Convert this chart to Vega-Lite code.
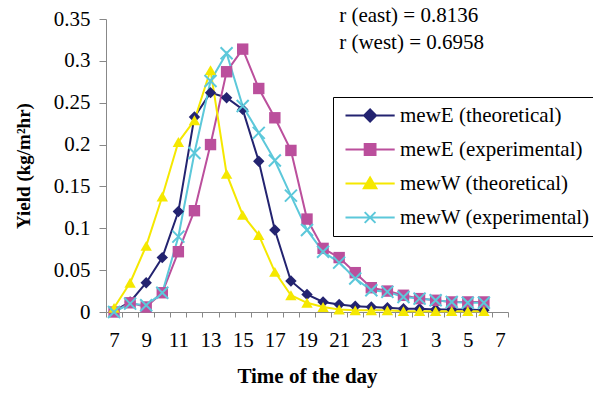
{
  "$schema": "https://vega.github.io/schema/vega-lite/v6.json",
  "width": 402,
  "height": 293,
  "autosize": {"type": "none"},
  "padding": {"left": 106, "top": 19, "right": 85, "bottom": 82},
  "config": {
    "view": {"stroke": null},
    "axis": {"grid": false, "labelFont": "Liberation Serif", "titleFont": "Liberation Serif", "labelFontSize": 21}
  },
  "datasets": {
    "yields": [
      {"time": "7", "series": "mewE (theoretical)", "yield": 0.001},
      {"time": "8", "series": "mewE (theoretical)", "yield": 0.012},
      {"time": "9", "series": "mewE (theoretical)", "yield": 0.035},
      {"time": "10", "series": "mewE (theoretical)", "yield": 0.065},
      {"time": "11", "series": "mewE (theoretical)", "yield": 0.12},
      {"time": "12", "series": "mewE (theoretical)", "yield": 0.233},
      {"time": "13", "series": "mewE (theoretical)", "yield": 0.262},
      {"time": "14", "series": "mewE (theoretical)", "yield": 0.256},
      {"time": "15", "series": "mewE (theoretical)", "yield": 0.242},
      {"time": "16", "series": "mewE (theoretical)", "yield": 0.18},
      {"time": "17", "series": "mewE (theoretical)", "yield": 0.098},
      {"time": "18", "series": "mewE (theoretical)", "yield": 0.037},
      {"time": "19", "series": "mewE (theoretical)", "yield": 0.021},
      {"time": "20", "series": "mewE (theoretical)", "yield": 0.012},
      {"time": "21", "series": "mewE (theoretical)", "yield": 0.009},
      {"time": "22", "series": "mewE (theoretical)", "yield": 0.007},
      {"time": "23", "series": "mewE (theoretical)", "yield": 0.006},
      {"time": "0", "series": "mewE (theoretical)", "yield": 0.005},
      {"time": "1", "series": "mewE (theoretical)", "yield": 0.004},
      {"time": "2", "series": "mewE (theoretical)", "yield": 0.004},
      {"time": "3", "series": "mewE (theoretical)", "yield": 0.003},
      {"time": "4", "series": "mewE (theoretical)", "yield": 0.003},
      {"time": "5", "series": "mewE (theoretical)", "yield": 0.003},
      {"time": "6", "series": "mewE (theoretical)", "yield": 0.002},

      {"time": "7", "series": "mewE (experimental)", "yield": 0.0},
      {"time": "8", "series": "mewE (experimental)", "yield": 0.011},
      {"time": "9", "series": "mewE (experimental)", "yield": 0.006},
      {"time": "10", "series": "mewE (experimental)", "yield": 0.023},
      {"time": "11", "series": "mewE (experimental)", "yield": 0.072},
      {"time": "12", "series": "mewE (experimental)", "yield": 0.121},
      {"time": "13", "series": "mewE (experimental)", "yield": 0.2},
      {"time": "14", "series": "mewE (experimental)", "yield": 0.287},
      {"time": "15", "series": "mewE (experimental)", "yield": 0.314},
      {"time": "16", "series": "mewE (experimental)", "yield": 0.267},
      {"time": "17", "series": "mewE (experimental)", "yield": 0.232},
      {"time": "18", "series": "mewE (experimental)", "yield": 0.193},
      {"time": "19", "series": "mewE (experimental)", "yield": 0.111},
      {"time": "20", "series": "mewE (experimental)", "yield": 0.076},
      {"time": "21", "series": "mewE (experimental)", "yield": 0.065},
      {"time": "22", "series": "mewE (experimental)", "yield": 0.047},
      {"time": "23", "series": "mewE (experimental)", "yield": 0.029},
      {"time": "0", "series": "mewE (experimental)", "yield": 0.025},
      {"time": "1", "series": "mewE (experimental)", "yield": 0.02},
      {"time": "2", "series": "mewE (experimental)", "yield": 0.016},
      {"time": "3", "series": "mewE (experimental)", "yield": 0.014},
      {"time": "4", "series": "mewE (experimental)", "yield": 0.012},
      {"time": "5", "series": "mewE (experimental)", "yield": 0.012},
      {"time": "6", "series": "mewE (experimental)", "yield": 0.012},

      {"time": "7", "series": "mewW (theoretical)", "yield": 0.005},
      {"time": "8", "series": "mewW (theoretical)", "yield": 0.035},
      {"time": "9", "series": "mewW (theoretical)", "yield": 0.079},
      {"time": "10", "series": "mewW (theoretical)", "yield": 0.138},
      {"time": "11", "series": "mewW (theoretical)", "yield": 0.203},
      {"time": "12", "series": "mewW (theoretical)", "yield": 0.229},
      {"time": "13", "series": "mewW (theoretical)", "yield": 0.289},
      {"time": "14", "series": "mewW (theoretical)", "yield": 0.165},
      {"time": "15", "series": "mewW (theoretical)", "yield": 0.116},
      {"time": "16", "series": "mewW (theoretical)", "yield": 0.092},
      {"time": "17", "series": "mewW (theoretical)", "yield": 0.048},
      {"time": "18", "series": "mewW (theoretical)", "yield": 0.02},
      {"time": "19", "series": "mewW (theoretical)", "yield": 0.011},
      {"time": "20", "series": "mewW (theoretical)", "yield": 0.006},
      {"time": "21", "series": "mewW (theoretical)", "yield": 0.003},
      {"time": "22", "series": "mewW (theoretical)", "yield": 0.002},
      {"time": "23", "series": "mewW (theoretical)", "yield": 0.002},
      {"time": "0", "series": "mewW (theoretical)", "yield": 0.002},
      {"time": "1", "series": "mewW (theoretical)", "yield": 0.001},
      {"time": "2", "series": "mewW (theoretical)", "yield": 0.001},
      {"time": "3", "series": "mewW (theoretical)", "yield": 0.001},
      {"time": "4", "series": "mewW (theoretical)", "yield": 0.001},
      {"time": "5", "series": "mewW (theoretical)", "yield": 0.001},
      {"time": "6", "series": "mewW (theoretical)", "yield": 0.001},

      {"time": "7", "series": "mewW (experimental)", "yield": 0.0},
      {"time": "8", "series": "mewW (experimental)", "yield": 0.01},
      {"time": "9", "series": "mewW (experimental)", "yield": 0.008},
      {"time": "10", "series": "mewW (experimental)", "yield": 0.023},
      {"time": "11", "series": "mewW (experimental)", "yield": 0.09},
      {"time": "12", "series": "mewW (experimental)", "yield": 0.19},
      {"time": "13", "series": "mewW (experimental)", "yield": 0.276},
      {"time": "14", "series": "mewW (experimental)", "yield": 0.309},
      {"time": "15", "series": "mewW (experimental)", "yield": 0.246},
      {"time": "16", "series": "mewW (experimental)", "yield": 0.214},
      {"time": "17", "series": "mewW (experimental)", "yield": 0.181},
      {"time": "18", "series": "mewW (experimental)", "yield": 0.139},
      {"time": "19", "series": "mewW (experimental)", "yield": 0.098},
      {"time": "20", "series": "mewW (experimental)", "yield": 0.072},
      {"time": "21", "series": "mewW (experimental)", "yield": 0.059},
      {"time": "22", "series": "mewW (experimental)", "yield": 0.04},
      {"time": "23", "series": "mewW (experimental)", "yield": 0.026},
      {"time": "0", "series": "mewW (experimental)", "yield": 0.024},
      {"time": "1", "series": "mewW (experimental)", "yield": 0.018},
      {"time": "2", "series": "mewW (experimental)", "yield": 0.016},
      {"time": "3", "series": "mewW (experimental)", "yield": 0.014},
      {"time": "4", "series": "mewW (experimental)", "yield": 0.012},
      {"time": "5", "series": "mewW (experimental)", "yield": 0.011},
      {"time": "6", "series": "mewW (experimental)", "yield": 0.011}
    ],
    "notes": [
      {"time": "21", "yield": 0.3462, "note": "r (east) = 0.8136"},
      {"time": "21", "yield": 0.3142, "note": "r (west) = 0.6958"}
    ]
  },
  "layer": [
    {
      "data": {"name": "yields"},
      "encoding": {
        "x": {
          "field": "time",
          "type": "ordinal",
          "sort": null,
          "scale": {
            "domain": ["7","8","9","10","11","12","13","14","15","16","17","18","19","20","21","22","23","0","1","2","3","4","5","6","7b"],
            "paddingInner": 0,
            "paddingOuter": 0
          },
          "axis": {
            "title": "Time of the day",
            "titleFontSize": 21,
            "titleFontWeight": "bold",
            "titlePadding": 15,
            "tickBand": "extent",
            "tickSize": 5,
            "labelAngle": 0,
            "labelPadding": 12,
            "labelOverlap": false,
            "labelExpr": "datum.value == '7b' ? '7' : (toNumber(datum.value) % 2 == 1 ? datum.value : '')"
          }
        },
        "y": {
          "field": "yield",
          "type": "quantitative",
          "scale": {"domain": [0, 0.35], "nice": false, "zero": true},
          "axis": {
            "title": "Yield (kg/m²hr)",
            "titleFontSize": 19,
            "titleFontWeight": "bold",
            "titlePadding": 20,
            "values": [0, 0.05, 0.1, 0.15, 0.2, 0.25, 0.3, 0.35],
            "format": ".2~f",
            "tickSize": 7,
            "labelPadding": 9
          }
        },
        "color": {
          "field": "series",
          "type": "nominal",
          "scale": {
            "domain": ["mewE (theoretical)", "mewE (experimental)", "mewW (theoretical)", "mewW (experimental)"],
            "range": ["#232370", "#BB4F9C", "#F5E800", "#5CC8DA"]
          },
          "legend": {
            "title": null,
            "orient": "none",
            "legendX": 227,
            "legendY": 78,
            "padding": 8,
            "strokeColor": "black",
            "fillColor": "white",
            "labelFont": "Liberation Serif",
            "labelFontSize": 21,
            "labelLimit": 400,
            "rowPadding": 12,
            "symbolSize": 144,
            "symbolStrokeWidth": 2,
            "labelOffset": 38,
            "encode": {
              "symbols": {
                "update": {
                  "shape": {"signal": "datum.value == 'mewE (theoretical)' ? 'M-1,0H7.2M2.1,0L3.1,-1L4.1,0L3.1,1Z' : datum.value == 'mewE (experimental)' ? 'M-1,0H7.2M2.2,-0.9H4V0.9H2.2Z' : datum.value == 'mewW (theoretical)' ? 'M-1,0H7.2M3.1,-1L4.15,0.8H2.05Z' : 'M-1,0H7.2M2.2,-0.9L4,0.9M2.2,0.9L4,-0.9'"},
                  "fill": {"scale": "color", "field": "value"},
                  "stroke": {"scale": "color", "field": "value"},
                  "strokeWidth": {"value": 2},
                  "opacity": {"value": 1}
                }
              }
            }
          }
        }
      },
      "layer": [
        {"mark": {"type": "line", "strokeWidth": 2}},
        {
          "transform": [{"filter": "datum.series != 'mewW (experimental)'"}],
          "mark": {"type": "point", "filled": true, "opacity": 1, "size": 130},
          "encoding": {
            "shape": {
              "field": "series",
              "type": "nominal",
              "scale": {
                "domain": ["mewE (theoretical)", "mewE (experimental)", "mewW (theoretical)"],
                "range": ["diamond", "square", "triangle-up"]
              },
              "legend": null
            }
          }
        },
        {
          "transform": [{"filter": "datum.series == 'mewW (experimental)'"}],
          "mark": {"type": "point", "filled": false, "opacity": 1, "size": 144, "strokeWidth": 2, "shape": "M-1,-1L1,1M-1,1L1,-1"}
        }
      ]
    },
    {
      "data": {"name": "notes"},
      "mark": {"type": "text", "align": "left", "baseline": "alphabetic", "font": "Liberation Serif", "fontSize": 21},
      "encoding": {
        "x": {"field": "time", "type": "ordinal"},
        "y": {"field": "yield", "type": "quantitative"},
        "text": {"field": "note"}
      }
    }
  ]
}
